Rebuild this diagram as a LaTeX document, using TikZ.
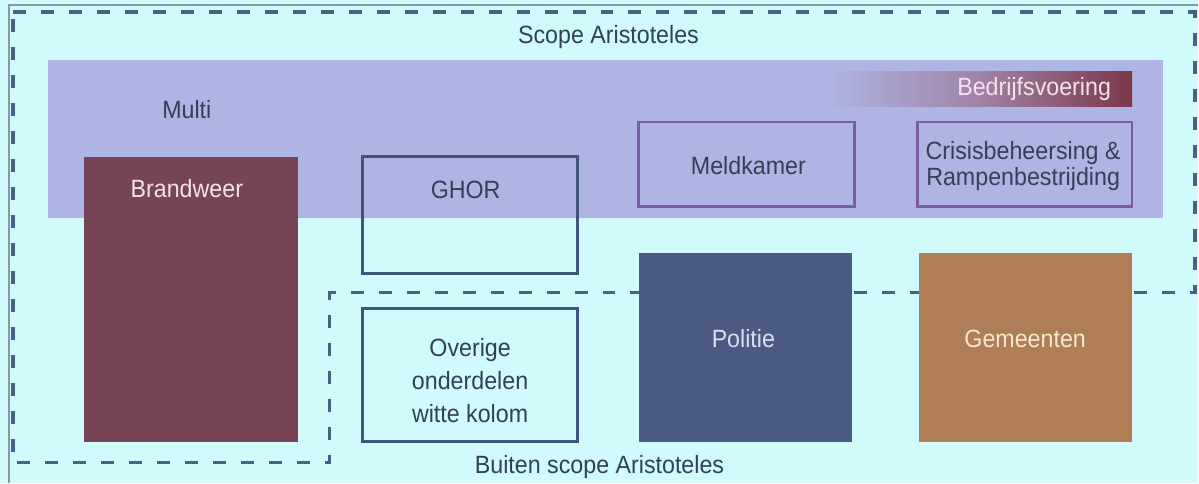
\documentclass[tikz,border=0pt]{standalone}
\usepackage{fontspec}
\setmainfont{Liberation Sans}[FakeStretch=0.93]
\definecolor{bgc}{RGB}{208,250,252}
\definecolor{bandc}{RGB}{174,180,228}
\definecolor{brandc}{RGB}{118,68,84}
\definecolor{polc}{RGB}{74,90,130}
\definecolor{gemc}{RGB}{176,126,86}
\definecolor{txtc}{RGB}{52,64,88}
\definecolor{ghorc}{RGB}{64,86,126}
\definecolor{meldc}{RGB}{122,92,165}
\definecolor{barc}{RGB}{122,56,74}
\definecolor{barmid}{RGB}{160,130,165}
\definecolor{dashc}{RGB}{72,96,130}
\definecolor{framec}{RGB}{140,150,160}
\definecolor{lightpink}{RGB}{242,226,236}
\definecolor{lightlav}{RGB}{218,222,242}
\definecolor{cream}{RGB}{246,232,205}
\begin{document}
\begin{tikzpicture}[x=0.5pt,y=-0.5pt,
  every node/.style={font=\fontsize{12.5}{15}\selectfont, text=txtc, inner sep=0pt, outer sep=0pt},
  fillbox/.style={rectangle, draw=none, fill=#1},
  linebox/.style={rectangle, draw=#1, line width=1.4pt},
  lbl/.style={align=center},
  dashline/.style={draw=dashc, line width=1.7pt, dash pattern=on 6.5pt off 7.5pt},
]
% background and frame
\fill[bgc] (0,0) rectangle (1199,483);
\draw[framec, line width=1pt] (9,483) -- (9,5) -- (1199,5);

% Multi band
\node[fillbox=bandc, minimum width=558pt, minimum height=79pt] (band) at (606,139) {};

% dashed scope boundary
\coordinate (o1) at (13,12);
\coordinate (o2) at (1196,12);
\coordinate (o3) at (1196,293);
\coordinate (o4) at (330,293);
\coordinate (o5) at (330,463);
\coordinate (o6) at (13,463);
\draw[dashline] (o1) -- (o2) -- (o3) -- (o4) -- (o5) -- (o6) -- cycle;

% Bedrijfsvoering bar
\node[rectangle, minimum width=151.5pt, minimum height=17.5pt,
      left color=bandc, right color=barc, middle color=barmid] (bar) at (981.5,89.5) {};
\node[text=lightpink] (barlbl) at (1035,89) {Bedrijfsvoering};

% boxes
\node[fillbox=brandc, minimum width=107pt, minimum height=142.5pt] (brand) at (191,299.5) {};
\node[linebox=ghorc, minimum width=107.5pt, minimum height=58.5pt] (ghor) at (470.5,215.5) {};
\node[linebox=meldc, minimum width=108pt, minimum height=42.5pt] (meld) at (747,164.5) {};
\node[linebox=meldc, minimum width=107.5pt, minimum height=42.5pt] (crisis) at (1025.5,164.5) {};
\node[linebox=ghorc, minimum width=107.5pt, minimum height=66.5pt] (overige) at (470.5,375.5) {};
\node[fillbox=polc, minimum width=106.5pt, minimum height=94.5pt] (politie) at (746.5,347.5) {};
\node[fillbox=gemc, minimum width=106.5pt, minimum height=94.5pt] (gemeenten) at (1026.5,347.5) {};

% labels
\node (scope) at (609,37) {Scope Aristoteles};
\node (buiten) at (600,467) {Buiten scope Aristoteles};
\node (multi) at (187,110) {Multi};
\node[text=lightpink] (brandlbl) at (187,189) {Brandweer};
\node (ghorlbl) at (466,190) {GHOR};
\node (meldlbl) at (749,166) {Meldkamer};
\node[lbl, font=\fontsize{12.5}{13.2}\selectfont] (crisislbl) at (1024,166) {Crisisbeheersing \&\\Rampenbestrijding};
\node[lbl, font=\fontsize{12.5}{16.5}\selectfont] (overigelbl) at (470.5,381) {Overige\\onderdelen\\witte kolom};
\node[text=lightlav] (politielbl) at (744,339) {Politie};
\node[text=cream] (gemlbl) at (1026,339) {Gemeenten};
\end{tikzpicture}
\end{document}
